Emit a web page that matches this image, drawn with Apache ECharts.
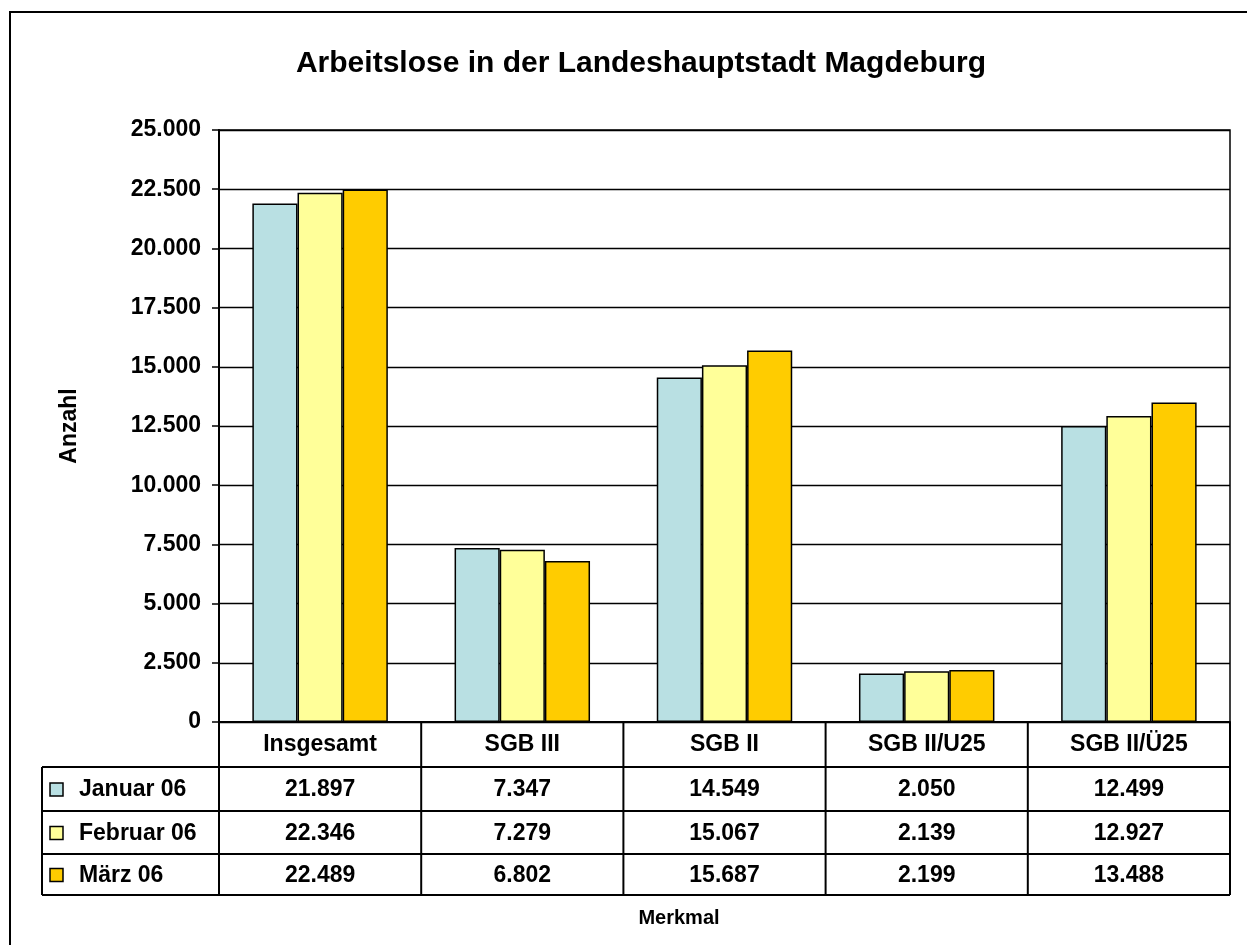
<!DOCTYPE html>
<html>
<head>
<meta charset="utf-8">
<script src="https://cdn.jsdelivr.net/npm/echarts@6/dist/echarts.min.js"></script>
<style>
  html, body { margin: 0; padding: 0; background: #fff; }
  #chart { width: 1247px; height: 945px; }
</style>
</head>
<body>
<div id="chart"></div>
<script>
// Daten
const kategorien = ['Insgesamt', 'SGB III', 'SGB II', 'SGB II/U25', 'SGB II/Ü25'];
const monate = ['Januar 06', 'Februar 06', 'März 06'];
const januar = [21897, 7347, 14549, 2050, 12499];
const februar = [22346, 7279, 15067, 2139, 12927];
const maerz = [22489, 6802, 15687, 2199, 13488];
const farben = ['#B9E0E3', '#FFFF99', '#FFCC00'];

const werte = [januar, februar, maerz];
const FONT = '"Liberation Sans", Arial, sans-serif';

function fmt(v) {
    return String(v).replace(/\B(?=(\d{3})+(?!\d))/g, '.');
}

const chartDom = document.getElementById('chart');
const chart = echarts.init(chartDom);

// Layout der Zeichenfläche
const plotLeft = 219, plotRight = 1230, plotTop = 130, plotBottom = 722;
const tableLeft = 42;
const rowLines = [722, 767, 811, 854, 895];

const option = {
    animation: false,
    backgroundColor: '#fff',
    textStyle: { fontFamily: FONT },
    title: {
        text: 'Arbeitslose in der Landeshauptstadt Magdeburg',
        left: 636, top: 44, textAlign: 'center',
        textStyle: { fontSize: 30, fontWeight: 'bold', color: '#000', fontFamily: FONT }
    },
    grid: {
        left: plotLeft, right: 1247 - plotRight, top: plotTop, bottom: 945 - plotBottom,
        show: true, borderColor: '#000', borderWidth: 1.5
    },
    xAxis: {
        type: 'category',
        data: kategorien,
        axisLine: { lineStyle: { color: '#000', width: 2 } },
        axisTick: { show: false },
        axisLabel: {
            margin: 11, fontSize: 23, fontWeight: 'bold', color: '#000', fontFamily: FONT
        }
    },
    yAxis: {
        type: 'value',
        min: 0, max: 25000, interval: 2500,
        name: 'Anzahl',
        nameLocation: 'middle',
        nameGap: 138,
        nameTextStyle: { fontSize: 23, fontWeight: 'bold', color: '#000', fontFamily: FONT },
        axisLine: { show: true, lineStyle: { color: '#000', width: 2 } },
        axisTick: { show: true, length: 7, lineStyle: { color: '#000', width: 1.5 } },
        axisLabel: {
            margin: 18, fontSize: 23, fontWeight: 'bold', color: '#000', fontFamily: FONT,
            formatter: v => fmt(v)
        },
        splitLine: { lineStyle: { color: '#000', width: 1.3 } }
    },
    series: monate.map((m, i) => ({
        name: m,
        type: 'bar',
        data: werte[i],
        barGap: '0%',
        barCategoryGap: '33%',
        itemStyle: { color: farben[i], borderColor: '#000', borderWidth: 1.5 }
    }))
};

chart.setOption(option);

// Datentabelle unter dem Diagramm
function buildTable() {
    const els = [];
    const line = (x1, y1, x2, y2) => ({
        type: 'line', silent: true,
        shape: { x1, y1, x2, y2 },
        style: { stroke: '#000', lineWidth: 2 }
    });
    // äußerer Rahmen
    els.push({
        type: 'rect', silent: true, z: -10,
        shape: { x: 10, y: 12, width: 1260, height: 960 },
        style: { fill: 'none', stroke: '#000', lineWidth: 2 }
    });
    // horizontale Linien
    rowLines.forEach((y, i) => {
        els.push(line(i === 0 ? plotLeft : tableLeft, y, plotRight, y));
    });
    // vertikale Linien
    els.push(line(tableLeft, rowLines[1], tableLeft, rowLines[4]));
    const catPx = kategorien.map((c, i) => chart.convertToPixel({ xAxisIndex: 0 }, i));
    const catW = (plotRight - plotLeft) / kategorien.length;
    for (let i = 0; i <= kategorien.length; i++) {
        const x = plotLeft + i * catW;
        els.push(line(x, rowLines[0], x, rowLines[4]));
    }
    // Legendenspalte und Werte
    monate.forEach((m, r) => {
        const yc = (rowLines[r + 1] + rowLines[r + 2]) / 2;
        els.push({
            type: 'rect', silent: true,
            shape: { x: 50, y: yc - 6, width: 13, height: 13 },
            style: { fill: farben[r], stroke: '#000', lineWidth: 1.5 }
        });
        els.push({
            type: 'text', silent: true,
            x: 79, y: yc + 1,
            style: {
                text: m, fill: '#000', font: 'bold 23px ' + FONT,
                textAlign: 'left', textVerticalAlign: 'middle'
            }
        });
        werte[r].forEach((v, c) => {
            els.push({
                type: 'text', silent: true,
                x: catPx[c], y: yc + 1,
                style: {
                    text: fmt(v), fill: '#000', font: 'bold 23px ' + FONT,
                    textAlign: 'center', textVerticalAlign: 'middle'
                }
            });
        });
    });
    // Achsentitel unten
    els.push({
        type: 'text', silent: true,
        x: 679, y: 918,
        style: {
            text: 'Merkmal', fill: '#000', font: 'bold 20px ' + FONT,
            textAlign: 'center', textVerticalAlign: 'middle'
        }
    });
    chart.setOption({ graphic: { elements: els } });
}

buildTable();

window.addEventListener('resize', () => chart.resize());
</script>
</body>
</html>
